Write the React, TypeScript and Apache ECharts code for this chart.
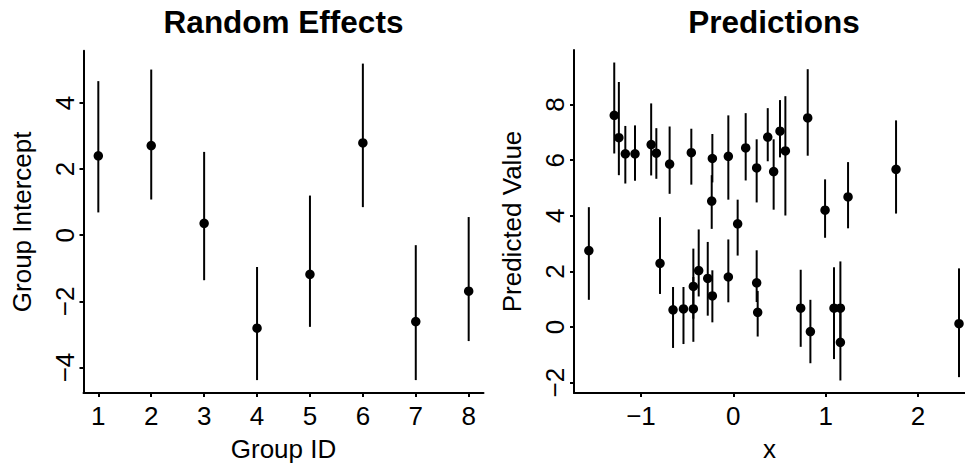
import React, { useEffect, useRef } from "react";
import * as echarts from "echarts";

// ---- Left panel: Random Effects ----
const groupIds = [1, 2, 3, 4, 5, 6, 7, 8];
const groupEst = [2.4, 2.71, 0.36, -2.81, -1.18, 2.79, -2.61, -1.69];
const groupLo = [0.69, 1.08, -1.36, -4.38, -2.77, 0.85, -4.38, -3.2];
const groupHi = [4.66, 5.01, 2.52, -0.96, 1.2, 5.19, -0.3, 0.55];

// ---- Right panel: Predictions ----
const predX = [
  -1.565, -1.29, -1.24, -1.17, -1.065, -0.89, -0.834, -0.69, -0.794, -0.653,
  -0.54, -0.433, -0.433, -0.375, -0.277, -0.227, -0.234, -0.227, -0.455, -0.054,
  -0.054, 0.047, 0.134, 0.253, 0.253, 0.264, 0.373, 0.437, 0.506, 0.564,
  0.806, 0.994, 1.243, 0.73, 0.835, 1.091, 1.16, 1.16, 1.763, 2.445,
];
const predY = [
  2.75, 7.61, 6.81, 6.23, 6.23, 6.56, 6.25, 5.86, 2.29, 0.62,
  0.65, 0.65, 1.46, 2.03, 1.75, 1.12, 4.53, 6.06, 6.27, 6.14,
  1.8, 3.71, 6.44, 5.72, 1.59, 0.53, 6.83, 5.59, 7.04, 6.33,
  7.52, 4.2, 4.68, 0.68, -0.16, 0.68, 0.68, -0.55, 5.67, 0.12,
];
const predLo = [
  0.98, 6.24, 5.46, 5.16, 5.26, 5.45, 5.33, 4.79, 1.19, -0.75,
  -0.61, -0.53, 0.3, 1.1, 0.41, 0.17, 3.53, 5.2, 5.12, 4.58,
  0.89, 2.57, 5.27, 4.48, 0.9, -0.34, 5.96, 4.22, 6.1, 4.01,
  6.16, 3.21, 3.55, -0.71, -1.3, -1.15, -0.6, -1.92, 4.08, -1.8,
];
const predHi = [
  4.31, 9.51, 8.81, 7.23, 7.25, 8.04, 7.15, 7.21, 3.95, 1.44,
  1.44, 1.8, 2.82, 3.51, 3.06, 2.04, 5.46, 6.94, 7.13, 7.61,
  3.15, 4.58, 7.69, 6.75, 2.76, 1.3, 7.87, 6.75, 8.16, 8.3,
  9.27, 5.31, 5.93, 2.06, 0.98, 2.15, 2.36, 0.8, 7.43, 2.11,
];

// ---- Tick labels ----
const leftXTicks = [1, 2, 3, 4, 5, 6, 7, 8];
const leftYTicks = [-4, -2, 0, 2, 4];
const rightXTicks = [-1, 0, 1, 2];
const rightYTicks = [-2, 0, 2, 4, 6, 8];

const FONT = '"Liberation Sans", Arial, Helvetica, sans-serif';
const fmt = (v: number) => String(v).replace("-", "\u2212");

const lineStyle = { color: "#000", width: 2 };

function makeAxis(
  gridIndex: number,
  min: number,
  max: number,
  ticks: number[],
  name: string,
  isY: boolean
) {
  return {
    gridIndex,
    type: "value",
    min,
    max,
    name,
    nameLocation: "middle",
    nameGap: isY ? 49 : 43,
    nameRotate: isY ? 90 : 0,
    nameTextStyle: { fontSize: 26, color: "#000", fontFamily: FONT },
    axisLine: { show: true, onZero: false, lineStyle },
    axisTick: { show: true, length: 4, customValues: ticks, lineStyle },
    axisLabel: {
      show: true,
      customValues: ticks,
      margin: isY ? 6 : 10,
      rotate: isY ? 90 : 0,
      fontSize: 26,
      color: "#000",
      fontFamily: FONT,
      formatter: fmt,
      showMinLabel: true,
      showMaxLabel: true,
    },
    splitLine: { show: false },
  };
}

function errorBarRender(params: any, api: any) {
  const x = api.value(0);
  const top = api.coord([x, api.value(2)]);
  const bot = api.coord([x, api.value(1)]);
  return {
    type: "line",
    shape: { x1: top[0], y1: top[1], x2: bot[0], y2: bot[1] },
    style: { stroke: "#000", lineWidth: 2 },
  };
}

export default function App() {
  const ref = useRef<HTMLDivElement>(null);
  useEffect(() => {
    if (!ref.current) return;
    const chart = echarts.init(ref.current, undefined, { renderer: "svg" });
    const leftPts = groupIds.map((g, i) => [g, groupEst[i]]);
    const leftBars = groupIds.map((g, i) => [g, groupLo[i], groupHi[i]]);
    const rightPts = predX.map((x, i) => [x, predY[i]]);
    const rightBars = predX.map((x, i) => [x, predLo[i], predHi[i]]);
    chart.setOption({
      animation: false,
      backgroundColor: "#fff",
      title: [
        {
          text: "Random Effects",
          left: 283.5,
          top: 6,
          textAlign: "center",
          padding: 0,
          textStyle: { fontSize: 31.5, fontWeight: "bold", color: "#000", fontFamily: FONT },
        },
        {
          text: "Predictions",
          left: 774,
          top: 6,
          textAlign: "center",
          padding: 0,
          textStyle: { fontSize: 31.5, fontWeight: "bold", color: "#000", fontFamily: FONT },
        },
      ],
      grid: [
        { left: 83.5, top: 50.7, width: 400, height: 342.3, containLabel: false, outerBoundsMode: "none" },
        { left: 574, top: 50, width: 391, height: 343, containLabel: false, outerBoundsMode: "none" },
      ],
      xAxis: [
        makeAxis(0, 0.72, 8.28, leftXTicks, "Group ID", false),
        makeAxis(1, -1.726, 2.51, rightXTicks, "x", false),
      ],
      yAxis: [
        makeAxis(0, -4.77, 5.58, leftYTicks, "Group Intercept", true),
        makeAxis(1, -2.37, 9.96, rightYTicks, "Predicted Value", true),
      ],
      series: [
        {
          type: "custom",
          xAxisIndex: 0,
          yAxisIndex: 0,
          data: leftBars,
          encode: { x: 0, y: [1, 2] },
          renderItem: errorBarRender,
          clip: false,
          z: 1,
        },
        {
          type: "scatter",
          xAxisIndex: 0,
          yAxisIndex: 0,
          data: leftPts,
          symbol: "circle",
          symbolSize: 9.5,
          itemStyle: { color: "#000", opacity: 1 },
          z: 2,
        },
        {
          type: "custom",
          xAxisIndex: 1,
          yAxisIndex: 1,
          data: rightBars,
          encode: { x: 0, y: [1, 2] },
          renderItem: errorBarRender,
          clip: false,
          z: 1,
        },
        {
          type: "scatter",
          xAxisIndex: 1,
          yAxisIndex: 1,
          data: rightPts,
          symbol: "circle",
          symbolSize: 9.5,
          itemStyle: { color: "#000", opacity: 1 },
          z: 2,
        },
      ],
    });
    return () => chart.dispose();
  }, []);
  return (
    <div
      ref={ref}
      style={{ position: "fixed", left: 0, top: 0, width: 965, height: 469, background: "#fff" }}
    />
  );
}
